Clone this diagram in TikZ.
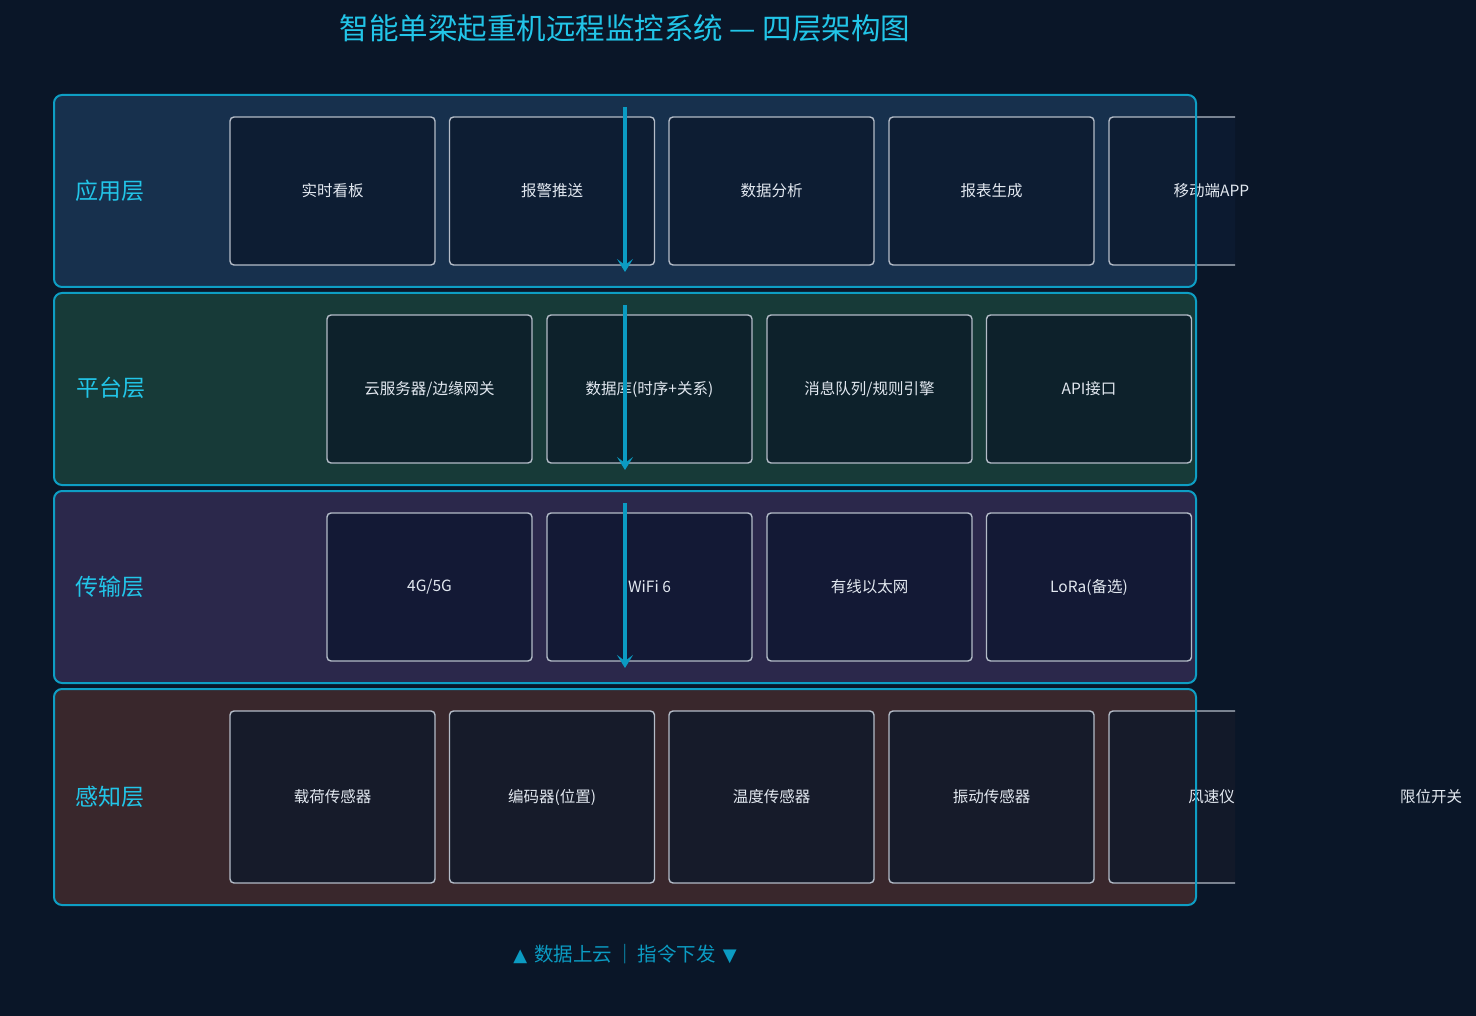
\documentclass[tikz,border=0pt]{standalone}
\usepackage{fontspec}
\setmainfont{Noto Sans CJK SC}
\newfontfamily\symfont{DejaVu Sans}
\usetikzlibrary{arrows.meta}
\definecolor{bg}{HTML}{0A1628}
\definecolor{cyanT}{HTML}{22C5E8}
\definecolor{lborder}{HTML}{0E9EC4}
\definecolor{arr}{HTML}{0B9BC2}
\definecolor{fA}{HTML}{17304D}
\definecolor{fB}{HTML}{173A38}
\definecolor{fC}{HTML}{2B284B}
\definecolor{fD}{HTML}{39272C}
\definecolor{bA}{HTML}{0D1B31}
\definecolor{bB}{HTML}{0C1F2A}
\definecolor{bC}{HTML}{111833}
\definecolor{bD}{HTML}{131A2A}
\definecolor{boxline}{HTML}{B4BCC8}
\definecolor{boxtext}{HTML}{E2E8F0}
\tikzset{
  layerfill/.style={draw=none, rounded corners=8pt, minimum width=1142pt, inner sep=0pt},
  layerline/.style={draw=lborder, line width=2pt, rounded corners=8pt, minimum width=1142pt, inner sep=0pt, fill=none},
  layertitle/.style={text=cyanT, font=\fontsize{23}{26}\selectfont, anchor=center},
  compbox/.style={draw=boxline, line width=1.4pt, rounded corners=4pt, minimum width=205pt, inner sep=0pt, fill opacity=0.9, text opacity=1, text=boxtext, font=\fontsize{15.5}{18}\selectfont},
  boxlabel/.style={text=boxtext, font=\fontsize{15.5}{18}\selectfont},
  flow/.style={draw=arr, line width=3.2pt, -{Stealth[length=13pt,width=16pt,inset=6pt]}},
}
\begin{document}
\begin{tikzpicture}[x=1pt,y=-1pt]
\fill[bg] (0,0) rectangle (1476,1016);
\useasboundingbox (0,0) rectangle (1476,1016);
% title
\node[text=cyanT, font=\fontsize{29.5}{34}\selectfont] (title) at (625,28) {智能单梁起重机远程监控系统 — 四层架构图};
% layer fills
\node[layerfill, fill=fA, minimum height=192pt] (L1f) at (625,191) {};
\node[layerfill, fill=fB, minimum height=192pt] (L2f) at (625,389) {};
\node[layerfill, fill=fC, minimum height=192pt] (L3f) at (625,587) {};
\node[layerfill, fill=fD, minimum height=216pt] (L4f) at (625,797) {};
% layer titles
\node[layertitle] (t1) at (110,191) {应用层};
\node[layertitle] (t2) at (111,388) {平台层};
\node[layertitle] (t3) at (110,587) {传输层};
\node[layertitle] (t4) at (110,797) {感知层};
% layer 1 boxes
\node[compbox, fill=bA, minimum height=148pt] (a1) at (332.5,191) {实时看板};
\node[compbox, fill=bA, minimum height=148pt] (a2) at (552,191) {报警推送};
\node[compbox, fill=bA, minimum height=148pt] (a3) at (771.5,191) {数据分析};
\node[compbox, fill=bA, minimum height=148pt] (a4) at (991.5,191) {报表生成};
\begin{scope}
\clip (0,0) rectangle (1235,1016);
\node[compbox, fill=bA, minimum height=148pt] (a5) at (1211.5,191) {};
\node[compbox, fill=bD, minimum height=172pt] (d5) at (1211.5,797) {};
\end{scope}
\node[boxlabel] (a5t) at (a5.center) {移动端APP};
% layer 2 boxes
\node[compbox, fill=bB, minimum height=148pt] (b1) at (429.5,389) {云服务器/边缘网关};
\node[compbox, fill=bB, minimum height=148pt] (b2) at (649.5,389) {数据库(时序+关系)};
\node[compbox, fill=bB, minimum height=148pt] (b3) at (869.5,389) {消息队列/规则引擎};
\node[compbox, fill=bB, minimum height=148pt] (b4) at (1089,389) {API接口};
% layer 3 boxes
\node[compbox, fill=bC, minimum height=148pt] (c1) at (429.5,587) {4G/5G};
\node[compbox, fill=bC, minimum height=148pt] (c2) at (649.5,587) {WiFi 6};
\node[compbox, fill=bC, minimum height=148pt] (c3) at (869.5,587) {有线以太网};
\node[compbox, fill=bC, minimum height=148pt] (c4) at (1089,587) {LoRa(备选)};
% layer 4 boxes
\node[compbox, fill=bD, minimum height=172pt] (d1) at (332.5,797) {载荷传感器};
\node[compbox, fill=bD, minimum height=172pt] (d2) at (552,797) {编码器(位置)};
\node[compbox, fill=bD, minimum height=172pt] (d3) at (771.5,797) {温度传感器};
\node[compbox, fill=bD, minimum height=172pt] (d4) at (991.5,797) {振动传感器};
\node[boxlabel] (d5t) at (d5.center) {风速仪};
\node[boxlabel] (d6t) at (1431,797) {限位开关};
% layer borders
\node[layerline, minimum height=192pt] (L1) at (625,191) {};
\node[layerline, minimum height=192pt] (L2) at (625,389) {};
\node[layerline, minimum height=192pt] (L3) at (625,587) {};
\node[layerline, minimum height=216pt] (L4) at (625,797) {};
% flow arrows
\coordinate (s1) at (625,107); \coordinate (e1) at (625,272);
\coordinate (s2) at (625,305); \coordinate (e2) at (625,470);
\coordinate (s3) at (625,503); \coordinate (e3) at (625,668);
\draw[flow] (s1) -- (e1);
\draw[flow] (s2) -- (e2);
\draw[flow] (s3) -- (e3);
% legend
\node[text=arr, font=\fontsize{19.5}{22}\selectfont] (legend) at (625,954) {{\symfont\fontsize{18}{20}\selectfont ▲}\hspace{7pt}数据上云\hspace{3pt}｜\hspace{3pt}指令下发\hspace{7pt}{\symfont\fontsize{18}{20}\selectfont ▼}};
\end{tikzpicture}
\end{document}
